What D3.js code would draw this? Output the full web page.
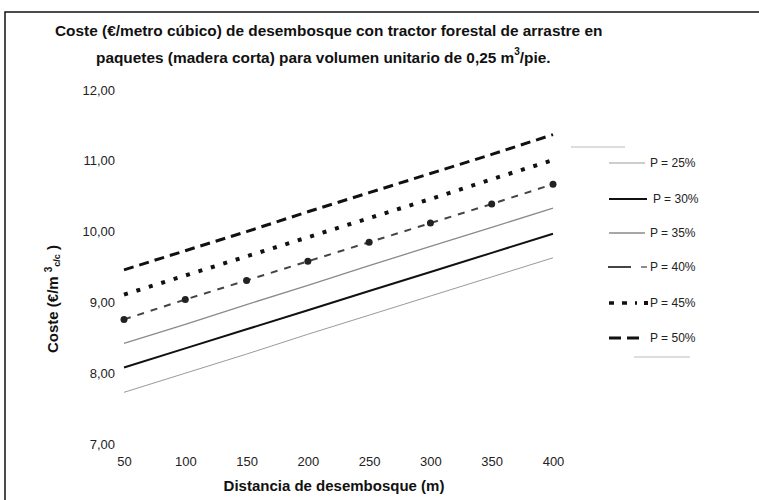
<!DOCTYPE html>
<html><head><meta charset="utf-8">
<script src="https://cdn.jsdelivr.net/npm/d3@7"></script>
<style>body{margin:0;background:#fff}svg{display:block;font-family:"Liberation Sans",Arial,sans-serif}</style>
</head><body><svg id="c" width="759" height="500"></svg>
<script>
const distances = [50, 100, 150, 200, 250, 300, 350, 400];
const seriesNames = ["P = 25%", "P = 30%", "P = 35%", "P = 40%", "P = 45%", "P = 50%"];
const p25 = [7.73, 8.00, 8.27, 8.55, 8.82, 9.09, 9.36, 9.63];
const p30 = [8.08, 8.35, 8.62, 8.89, 9.16, 9.43, 9.70, 9.97];
const p35 = [8.42, 8.69, 8.97, 9.24, 9.52, 9.79, 10.06, 10.33];
const p40 = [8.76, 9.04, 9.31, 9.58, 9.85, 10.12, 10.39, 10.67];
const p45 = [9.11, 9.38, 9.65, 9.92, 10.19, 10.46, 10.74, 11.01];
const p50 = [9.46, 9.73, 10.00, 10.28, 10.55, 10.82, 11.09, 11.37];
const yTicks = [7, 8, 9, 10, 11, 12];
const xTicks = [50, 100, 150, 200, 250, 300, 350, 400];

const svg = d3.select("#c");
svg.append("rect").attr("x", 5).attr("y", 12).attr("width", 800).attr("height", 600)
  .attr("fill", "none").attr("stroke", "#111").attr("stroke-width", 1.5);

const x = d3.scaleLinear().domain([50, 400]).range([124, 553]);
const y = d3.scaleLinear().domain([7, 12]).range([444, 90]);

// Title
const t = svg.append("g").attr("font-weight", "bold").attr("font-size", 15.4).attr("fill", "#111");
t.append("text").attr("x", 55).attr("y", 36).text("Coste (€/metro cúbico) de desembosque con tractor forestal de arrastre en");
const t2 = t.append("text").attr("x", 96).attr("y", 63);
t2.append("tspan").text("paquetes (madera corta) para volumen unitario de 0,25 m");
t2.append("tspan").attr("font-size", 10).attr("dy", -8).text("3");
t2.append("tspan").attr("dy", 8).text("/pie.");

// Axes (labels only)
const ya = svg.append("g").attr("transform", "translate(118,0)")
  .call(d3.axisLeft(y).tickValues(yTicks).tickSize(0).tickPadding(3)
    .tickFormat(d => d3.format(".2f")(d).replace(".", ",")));
ya.select(".domain").remove();
ya.selectAll("text").attr("font-size", 13).attr("fill", "#222").attr("font-family", "Liberation Sans, Arial");

const xa = svg.append("g").attr("transform", "translate(0,457)")
  .call(d3.axisBottom(x).tickValues(xTicks).tickSize(0).tickPadding(0));
xa.select(".domain").remove();
xa.selectAll("text").attr("font-size", 13).attr("fill", "#222").attr("font-family", "Liberation Sans, Arial");

svg.append("text").attr("x", 334).attr("y", 491).attr("text-anchor", "middle")
  .attr("font-weight", "bold").attr("font-size", 15).attr("fill", "#111")
  .text("Distancia de desembosque (m)");

const yl = svg.append("text").attr("transform", "translate(58,299) rotate(-90)")
  .attr("text-anchor", "middle").attr("font-weight", "bold").attr("font-size", 15).attr("fill", "#111");
yl.append("tspan").text("Coste (€/m ");
yl.append("tspan").attr("font-size", 10).attr("dy", -6).text("3");
yl.append("tspan").attr("font-size", 9).attr("dy", 8).text("c/c");
yl.append("tspan").attr("dy", -2).text(" )");

// Series
const styles = [
  {values: p25, stroke: "#9a9a9a", width: 1, dash: null},
  {values: p30, stroke: "#111", width: 2, dash: null},
  {values: p35, stroke: "#8a8a8a", width: 1.3, dash: null},
  {values: p40, stroke: "#444", width: 2, dash: "7,7", marker: "circle"},
  {values: p45, stroke: "#111", width: 4, dash: "4,9"},
  {values: p50, stroke: "#111", width: 3, dash: "10,6"}
];
const line = d3.line().x((d, i) => x(distances[i])).y(d => y(d));
styles.forEach(s => {
  svg.append("path").datum(s.values).attr("d", line).attr("fill", "none")
    .attr("stroke", s.stroke).attr("stroke-width", s.width)
    .attr("stroke-dasharray", s.dash);
  if (s.marker === "circle") {
    svg.selectAll(null).data(s.values).enter().append("circle")
      .attr("cx", (d, i) => x(distances[i])).attr("cy", d => y(d)).attr("r", 3.5).attr("fill", "#222");
  }
});

// Legend
const legY = [163, 199, 233, 267, 303, 338];
const lg = svg.append("g");
lg.append("line").attr("x1", 571).attr("x2", 625).attr("y1", 147).attr("y2", 147).attr("stroke", "#bbb").attr("stroke-width", 1);
lg.append("line").attr("x1", 634).attr("x2", 690).attr("y1", 357).attr("y2", 357).attr("stroke", "#bbb").attr("stroke-width", 1);
styles.forEach((s, i) => {
  const yy = legY[i];
  if (i === 4) {
    lg.append("line").attr("x1", 609).attr("x2", 637).attr("y1", yy).attr("y2", yy)
      .attr("stroke", s.stroke).attr("stroke-width", 3.5).attr("stroke-dasharray", "5,8");
    lg.append("rect").attr("x", 644).attr("y", yy - 2).attr("width", 4).attr("height", 4).attr("fill", "#111");
  } else if (i === 3) {
    lg.append("line").attr("x1", 608).attr("x2", 631).attr("y1", yy).attr("y2", yy)
      .attr("stroke", s.stroke).attr("stroke-width", 2);
    lg.append("line").attr("x1", 641).attr("x2", 647).attr("y1", yy).attr("y2", yy)
      .attr("stroke", "#666").attr("stroke-width", 1.5);
  } else {
    lg.append("line").attr("x1", 609).attr("x2", i === 1 ? 647 : 645).attr("y1", yy).attr("y2", yy)
      .attr("stroke", s.stroke).attr("stroke-width", s.width).attr("stroke-dasharray", i === 5 ? "12,6" : s.dash);
  }
  lg.append("text").attr("x", i === 1 ? 653 : 650).attr("y", yy + 4).attr("font-size", 12).attr("fill", "#222")
    .text(seriesNames[i]);
});
</script></body></html>
